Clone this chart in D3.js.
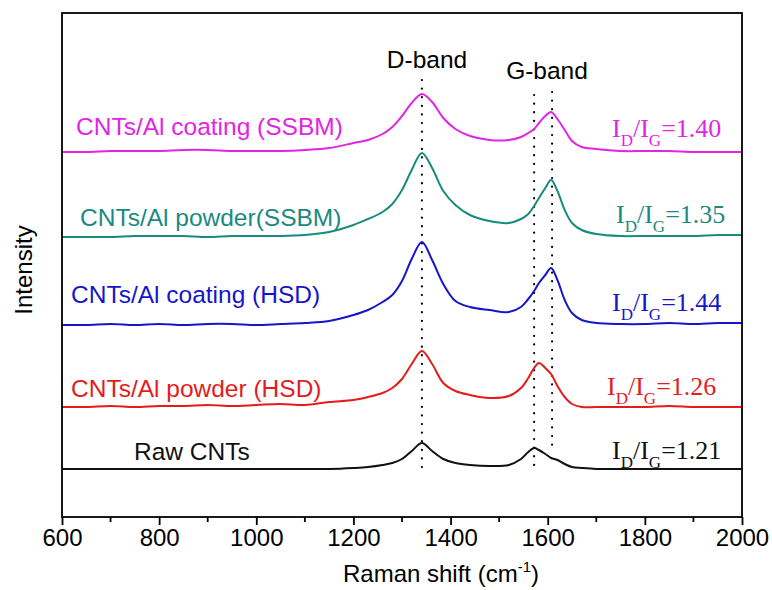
<!DOCTYPE html>
<html>
<head>
<meta charset="utf-8">
<script src="https://cdn.jsdelivr.net/npm/d3@7"></script>
<style>
  html, body { margin: 0; padding: 0; background: #fff; }
  svg { display: block; }
</style>
</head>
<body>
<svg id="chart" width="772" height="590"></svg>
<script>
// ---------- DATA ----------
const ramanShift = [600, 650, 700, 750, 800, 850, 900, 950, 1000, 1050, 1100, 1150, 1200, 1230, 1260, 1280, 1300, 1320, 1341, 1362, 1385, 1410, 1440, 1480, 1520, 1545, 1560, 1572, 1582, 1595, 1607, 1620, 1635, 1650, 1670, 1700, 1750, 1800, 1850, 1900, 1950, 2000];

const intensityCoatingSSBM = [365,365,366,366,366,367,367,366,366,366,367,369,374,377,383,390,401,414,423,415,399,388,381,377,377,380,384,388,394,401,405,398,387,376,370,368,366,366,366,365,365,365];
const intensityPowderSSBM  = [280,280,280,281,281,281,280,281,281,281,282,285,292,298,305,313,327,347,364,349,326,312,302,296,294,298,303,311,319,329,337,326,307,294,287,283,281,281,281,281,282,282];
const intensityCoatingHSD  = [192,192,193,192,193,192,193,193,192,193,194,196,202,207,215,222,236,258,275,257,233,216,210,207,205,210,218,226,234,242,249,237,217,204,197,194,193,193,194,193,194,194];
const intensityPowderHSD   = [110,110,111,110,111,111,112,111,112,113,112,115,117,120,124,129,138,153,166,153,134,126,122,119,121,129,139,149,154,149,143,131,120,113,110,110,110,110,111,110,110,110];
const intensityRawCNTs     = [48,48,48,48,48,48,48,48,48,48,48,48,49,50,52,54,58,66,74,66,58,54,52,51,52,58,65,69,67,63,59,57,53,50,49,48,48,48,48,48,48,48];

const seriesNames = ["CNTs/Al coating (SSBM)", "CNTs/Al powder(SSBM)", "CNTs/Al coating (HSD)", "CNTs/Al powder (HSD)", "Raw CNTs"];
const ratioValues = ["1.40", "1.35", "1.44", "1.26", "1.21"];
const seriesColors = ["#e324e3", "#1a8a80", "#1616c8", "#e41c1c", "#111111"];

const bandNames = ["D-band", "G-band"];
const bandLineShift = [1341, 1572, 1609];
const bandLineTop = [437, 422, 425];
const bandLineBottom = [47, 52, 64];

const xTicks = [600, 800, 1000, 1200, 1400, 1600, 1800, 2000];
const xMinorTicks = [700, 900, 1100, 1300, 1500, 1700, 1900];

// ---------- LAYOUT ----------
const svg = d3.select("#chart");
const pL = 62, pR = 742, pT = 13, pB = 517;
const x = d3.scaleLinear().domain([600, 2000]).range([pL, pR]);
const y = d3.scaleLinear().domain([0, 504]).range([pB, pT]);

const sans = "'Liberation Sans', Arial, sans-serif";
const serif = "'Liberation Serif', 'Times New Roman', serif";

// dotted band lines
const bandG = svg.append("g");
bandLineShift.forEach((s, i) => {
  bandG.append("line")
    .attr("x1", x(s)).attr("x2", x(s))
    .attr("y1", y(bandLineTop[i])).attr("y2", y(bandLineBottom[i]))
    .attr("stroke", "#000").attr("stroke-width", 2.2)
    .attr("stroke-linecap", "round")
    .attr("stroke-dasharray", "0.1,8.5");
});

// spectra
const allSeries = [intensityCoatingSSBM, intensityPowderSSBM, intensityCoatingHSD, intensityPowderHSD, intensityRawCNTs];
const line = d3.line()
  .x((d, i) => x(ramanShift[i]))
  .y(d => y(d))
  .curve(d3.curveCatmullRom.alpha(0.5));

allSeries.forEach((vals, k) => {
  svg.append("path")
    .datum(vals)
    .attr("d", line)
    .attr("fill", "none")
    .attr("stroke", seriesColors[k])
    .attr("stroke-width", 2)
    .attr("stroke-linejoin", "round");
});

// series labels
const labelPos = [[76, 135], [80, 226], [71, 303], [71, 397], [134, 460]];
seriesNames.forEach((name, k) => {
  svg.append("text")
    .attr("x", labelPos[k][0]).attr("y", labelPos[k][1])
    .attr("fill", seriesColors[k])
    .style("font-family", sans).style("font-size", "24.5px")
    .text(name);
});

// ID/IG ratio labels
const ratioPos = [[612, 137], [616, 223], [612, 311], [607, 395], [612, 459]];
ratioValues.forEach((v, k) => {
  const t = svg.append("text")
    .attr("x", ratioPos[k][0]).attr("y", ratioPos[k][1])
    .attr("fill", seriesColors[k])
    .style("font-family", serif).style("font-size", "26px");
  t.append("tspan").text("I");
  t.append("tspan").attr("dy", 9).style("font-size", "17px").text("D");
  t.append("tspan").attr("dy", -9).text("/I");
  t.append("tspan").attr("dy", 9).style("font-size", "17px").text("G");
  t.append("tspan").attr("dy", -9).text("=" + v);
});

// band labels
svg.append("text").attr("x", 427).attr("y", 68).attr("text-anchor", "middle")
  .style("font-family", sans).style("font-size", "24.5px").text(bandNames[0]);
svg.append("text").attr("x", 547).attr("y", 79).attr("text-anchor", "middle")
  .style("font-family", sans).style("font-size", "24.5px").text(bandNames[1]);

// frame
svg.append("rect")
  .attr("x", pL).attr("y", pT)
  .attr("width", pR - pL).attr("height", pB - pT)
  .attr("fill", "none").attr("stroke", "#000").attr("stroke-width", 1.8);

// bottom axis
const axisG = svg.append("g").attr("transform", `translate(0,${pB})`);
axisG.call(d3.axisBottom(x).tickValues(xTicks).tickSize(8).tickPadding(4).tickFormat(d3.format("d")));
axisG.select(".domain").remove();
axisG.selectAll(".tick line").attr("stroke-width", 1.8);
axisG.selectAll(".tick text").style("font-family", sans).style("font-size", "24px").attr("fill", "#000");
axisG.selectAll(".minor").data(xMinorTicks).enter().append("line")
  .attr("class", "minor")
  .attr("x1", d => x(d)).attr("x2", d => x(d))
  .attr("y1", 0).attr("y2", 5)
  .attr("stroke", "#000").attr("stroke-width", 1.8);

// axis titles
const xt = svg.append("text").attr("x", 441).attr("y", 582).attr("text-anchor", "middle")
  .style("font-family", sans).style("font-size", "24px");
xt.append("tspan").text("Raman shift (cm");
xt.append("tspan").attr("dy", -10).style("font-size", "15px").text("-1");
xt.append("tspan").attr("dy", 10).text(")");

svg.append("text")
  .attr("transform", "translate(32,270) rotate(-90)")
  .attr("text-anchor", "middle")
  .style("font-family", sans).style("font-size", "24px")
  .text("Intensity");
</script>
</body>
</html>
